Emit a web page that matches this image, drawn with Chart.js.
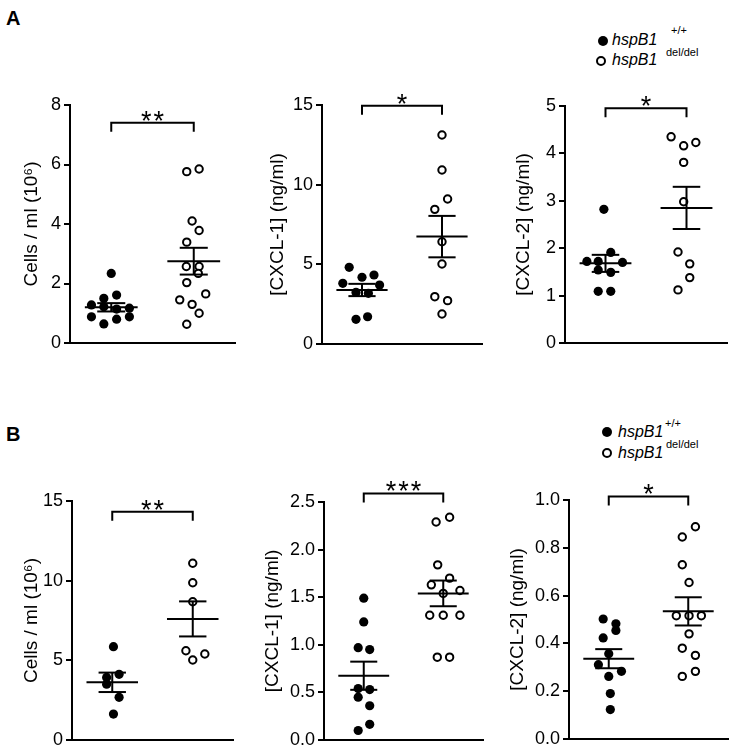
<!DOCTYPE html>
<html>
<head>
<meta charset="utf-8">
<script src="https://cdn.jsdelivr.net/npm/chart.js@4/dist/chart.umd.min.js"></script>
<style>
  body { margin: 0; background: #fff; width: 735px; height: 749px; position: relative; overflow: hidden;
         font-family: "Liberation Sans", Arial, sans-serif; color: #000; }
  canvas { position: absolute; }
  .tag { position: absolute; font-weight: bold; font-size: 20px; line-height: 20px; }
  .dot { position: absolute; width: 10px; height: 10px; border-radius: 50%; box-sizing: border-box; }
  .dot.full { background: #000; }
  .dot.open { border: 2px solid #000; background: #fff; }
  .gene { position: absolute; font-style: italic; font-size: 16px; line-height: 18px; }
  .sup { position: absolute; font-size: 11px; line-height: 12px; }
</style>
</head>
<body>
<div class="tag" style="left:6px;top:8px">A</div>
<div class="tag" style="left:6px;top:424px">B</div>

<span class="dot full" style="left:598px;top:36px"></span>
<span class="gene" style="left:612px;top:31px">hspB1</span>
<span class="sup" style="left:671px;top:24px">+/+</span>
<span class="dot open" style="left:596px;top:56px"></span>
<span class="gene" style="left:612px;top:51px">hspB1</span>
<span class="sup" style="left:666px;top:46px">del/del</span>

<span class="dot full" style="left:602px;top:427px"></span>
<span class="gene" style="left:618px;top:423px">hspB1</span>
<span class="sup" style="left:665px;top:417px">+/+</span>
<span class="dot open" style="left:602px;top:448px"></span>
<span class="gene" style="left:618px;top:444px">hspB1</span>
<span class="sup" style="left:666px;top:438px">del/del</span>

<canvas id="a1"></canvas>
<canvas id="a2"></canvas>
<canvas id="a3"></canvas>
<canvas id="b1"></canvas>
<canvas id="b2"></canvas>
<canvas id="b3"></canvas>

<script>
// A: cells and chemokines, hspB1+/+ (filled) vs hspB1 del/del (open)
const a1Wt = [2.34, 1.61, 1.50, 1.28, 1.22, 1.17, 1.14, 0.88, 0.88, 0.80, 0.64];
const a1WtX = [0, 0.065, -0.09, -0.24, -0.09, 0.22, 0.065, -0.24, 0.22, 0.065, -0.09];
const a1Ko = [5.76, 5.85, 4.10, 3.78, 3.39, 2.57, 2.57, 2.34, 2.03, 1.65, 1.45, 1.30, 1.00, 0.63];
const a1KoX = [-0.085, 0.065, -0.02, 0.065, -0.085, -0.09, 0.065, 0.055, -0.085, 0.145, -0.17, -0.02, 0.065, -0.085];
const a1Mean = [1.2, 2.75];
const a1Sem = [0.14, 0.45];

const a2Wt = [4.81, 4.19, 4.33, 3.81, 3.70, 3.24, 3.18, 1.71, 1.55];
const a2WtX = [-0.16, 0, 0.15, -0.24, 0.22, -0.075, 0.08, 0.07, -0.075];
const a2Ko = [13.12, 10.92, 9.10, 8.45, 6.42, 5.02, 2.97, 2.72, 1.88];
const a2KoX = [0, 0, 0.07, -0.09, 0, 0, -0.09, 0.07, 0];
const a2Mean = [3.39, 6.74];
const a2Sem = [0.385, 1.3];

const a3Wt = [2.82, 1.91, 1.72, 1.72, 1.70, 1.54, 1.49, 1.09, 1.09];
const a3WtX = [-0.02, 0.065, -0.23, -0.09, 0.21, -0.09, 0.065, -0.09, 0.065];
const a3Ko = [4.35, 4.16, 4.23, 3.81, 2.98, 1.92, 1.67, 1.38, 1.12];
const a3KoX = [-0.19, -0.035, 0.115, -0.035, -0.035, -0.105, 0.04, 0.04, -0.105];
const a3Mean = [1.68, 2.85];
const a3Sem = [0.18, 0.445];

// B
const b1Wt = [5.86, 4.12, 3.93, 3.50, 2.68, 1.63];
const b1WtX = [0.015, 0.085, -0.07, -0.07, 0.085, 0.015];
const b1Ko = [11.09, 9.87, 8.68, 5.60, 5.40, 5.02];
const b1KoX = [0, 0, 0, -0.085, 0.15, 0];
const b1Mean = [3.62, 7.6];
const b1Sem = [0.61, 1.1];

const b2Wt = [1.49, 1.24, 0.97, 0.95, 0.54, 0.53, 0.45, 0.36, 0.165, 0.10];
const b2WtX = [0, 0, -0.07, 0.075, -0.07, 0.075, -0.07, 0.075, 0.075, -0.07];
const b2Ko = [2.29, 2.34, 1.84, 1.70, 1.63, 1.57, 1.54, 1.31, 1.31, 1.31, 0.87, 0.87];
const b2KoX = [-0.09, 0.08, -0.07, 0.08, -0.15, 0.21, 0, -0.17, 0, 0.21, -0.075, 0.08];
const b2Mean = [0.675, 1.54];
const b2Sem = [0.148, 0.135];

const b3Wt = [0.502, 0.482, 0.454, 0.423, 0.357, 0.311, 0.283, 0.262, 0.19, 0.123];
const b3WtX = [-0.07, 0.09, 0.09, -0.07, 0, -0.13, 0.16, 0, 0.02, 0.02];
const b3Ko = [0.888, 0.845, 0.729, 0.655, 0.516, 0.516, 0.516, 0.44, 0.38, 0.35, 0.283, 0.262];
const b3KoX = [0.09, -0.075, -0.075, 0.01, -0.15, 0.01, 0.165, 0.01, -0.075, 0.09, 0.09, -0.075];
const b3Mean = [0.336, 0.534];
const b3Sem = [0.04, 0.059];

const cellsTitle = "Cells / ml (10\u2076)";
const cxcl1Title = "[CXCL-1] (ng/ml)";
const cxcl2Title = "[CXCL-2] (ng/ml)";

const FONT = '"Liberation Sans", Arial, sans-serif';
const Y_W = 70;

// mean +/- SEM bars and the significance bracket
const statsPlugin = {
  id: "stats",
  afterDatasetsDraw(chart, args, o) {
    const { ctx, scales: { x, y } } = chart;
    ctx.save();
    ctx.strokeStyle = "#000";
    ctx.lineWidth = 2;
    const seg = (x0, y0, x1, y1) => { ctx.beginPath(); ctx.moveTo(x0, y0); ctx.lineTo(x1, y1); ctx.stroke(); };
    o.mean.forEach((m, i) => {
      const c = i + 0.5;
      const px = x.getPixelForValue(c);
      const hw = x.getPixelForValue(c + 0.32) - px;
      const cw = x.getPixelForValue(c + 0.17) - px;
      const ym = y.getPixelForValue(m);
      const yt = y.getPixelForValue(m + o.sem[i]);
      const yb = y.getPixelForValue(m - o.sem[i]);
      seg(px - hw, ym, px + hw, ym);
      seg(px, yt, px, yb);
      seg(px - cw, yt, px + cw, yt);
      seg(px - cw, yb, px + cw, yb);
    });
    const by = y.getPixelForValue(o.bracket);
    const x0 = x.getPixelForValue(0.5), x1 = x.getPixelForValue(1.5);
    ctx.beginPath();
    ctx.moveTo(x0, by + 9); ctx.lineTo(x0, by); ctx.lineTo(x1, by); ctx.lineTo(x1, by + 9);
    ctx.stroke();
    ctx.fillStyle = "#000";
    ctx.font = "27px " + FONT;
    ctx.textAlign = "center";
    ctx.letterSpacing = "2px";
    ctx.fillText(o.stars, (x0 + x1) / 2 + 1, by + 7);
    ctx.restore();
  }
};

function panel(id, box, p) {
  const el = document.getElementById(id);
  const w = box.r - box.l + Y_W + 6, h = box.b - box.t + 45 + 14;
  el.width = w; el.height = h;
  el.style.left = (box.l - Y_W) + "px";
  el.style.top = (box.t - 45) + "px";
  const group = (vals, jit, c, filled) => ({
    data: vals.map((v, i) => ({ x: c + jit[i], y: v })),
    pointRadius: filled ? 4.6 : 3.7,
    pointBorderWidth: filled ? 0 : 2,
    pointBackgroundColor: filled ? "#000" : "#fff",
    pointBorderColor: "#000",
    clip: false,
  });
  new Chart(el, {
    type: "scatter",
    data: { datasets: [group(p.wt, p.wtX, 0.5, true), group(p.ko, p.koX, 1.5, false)] },
    options: {
      responsive: false,
      animation: false,
      events: [],
      layout: { padding: { top: 45, right: 6, bottom: 14, left: 0 } },
      plugins: {
        legend: { display: false },
        tooltip: { enabled: false },
        stats: { mean: p.mean, sem: p.sem, bracket: p.bracket, stars: p.stars },
      },
      scales: {
        x: {
          type: "linear", min: 0, max: 2,
          grid: { display: false },
          ticks: { display: false },
          border: { display: true, width: 2, color: "#000" },
          afterFit: (s) => { s.height = 0; },
        },
        y: {
          min: 0, max: p.max,
          ticks: {
            stepSize: p.step, color: "#000", padding: 3,
            font: { family: FONT, size: 18 },
            callback: (v) => (p.dec ? v.toFixed(1) : String(v)),
          },
          grid: { drawOnChartArea: false, drawTicks: true, tickLength: 6, color: "#000", lineWidth: 2 },
          border: { display: true, width: 2, color: "#000" },
          title: {
            display: true, text: p.title, color: "#000",
            font: { family: FONT, size: 19 },
            padding: { top: Y_W - 11.4 - p.titleGap, bottom: 0 },
          },
          afterFit: (s) => { s.width = Y_W; },
        },
      },
    },
    plugins: [statsPlugin],
  });
}

panel("a1", { l: 70, r: 235, t: 105, b: 343 },
  { wt: a1Wt, wtX: a1WtX, ko: a1Ko, koX: a1KoX, mean: a1Mean, sem: a1Sem,
    max: 8, step: 2, title: cellsTitle, titleGap: 38, bracket: 7.4, stars: "**" });
panel("a2", { l: 322, r: 482, t: 105, b: 344 },
  { wt: a2Wt, wtX: a2WtX, ko: a2Ko, koX: a2KoX, mean: a2Mean, sem: a2Sem,
    max: 15, step: 5, title: cxcl1Title, titleGap: 44, bracket: 14.96, stars: "*" });
panel("a3", { l: 565, r: 727, t: 106, b: 343 },
  { wt: a3Wt, wtX: a3WtX, ko: a3Ko, koX: a3KoX, mean: a3Mean, sem: a3Sem,
    max: 5, step: 1, title: cxcl2Title, titleGap: 41, bracket: 4.95, stars: "*" });
panel("b1", { l: 72, r: 233, t: 501, b: 740 },
  { wt: b1Wt, wtX: b1WtX, ko: b1Ko, koX: b1KoX, mean: b1Mean, sem: b1Sem,
    max: 15, step: 5, title: cellsTitle, titleGap: 40, bracket: 14.33, stars: "**" });
panel("b2", { l: 324, r: 483, t: 502, b: 740 },
  { wt: b2Wt, wtX: b2WtX, ko: b2Ko, koX: b2KoX, mean: b2Mean, sem: b2Sem,
    max: 2.5, step: 0.5, dec: true, title: cxcl1Title, titleGap: 51, bracket: 2.59, stars: "***" });
panel("b3", { l: 569, r: 728, t: 500, b: 739 },
  { wt: b3Wt, wtX: b3WtX, ko: b3Ko, koX: b3KoX, mean: b3Mean, sem: b3Sem,
    max: 1.0, step: 0.2, dec: true, title: cxcl2Title, titleGap: 51, bracket: 1.015, stars: "*" });
</script>
</body>
</html>
